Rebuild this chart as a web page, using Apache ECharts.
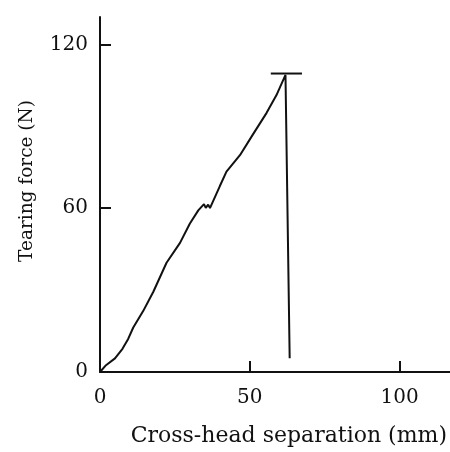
<!DOCTYPE html>
<html>
<head>
<meta charset="utf-8">
<script src="https://cdn.jsdelivr.net/npm/echarts@6/dist/echarts.min.js"></script>
<style>
  html, body { margin: 0; padding: 0; background: #fff; }
  #chart { width: 450px; height: 452px; }
</style>
</head>
<body>
<div id="chart"></div>
<script>
// Cross-head separation (mm) and tearing force (N) along the tear trace
const separation = [0, 2, 5, 7.5, 9.4, 11.1, 14.4, 17.8, 22.2, 26.7, 30, 32.8, 34.7, 35.3, 36.1, 36.7, 40, 42.2, 46.7, 51.1, 55.6, 58.9, 61.9, 63.3];
const force      = [0, 2.5, 5, 8.5, 12.1, 16.3, 22.3, 29.4, 40, 47.3, 54.4, 59.2, 61.5, 60.1, 61.3, 60, 68.1, 73.4, 79.4, 87.1, 94.9, 101.4, 108.8, 5];

// Peak marker (short horizontal bar at the break point)
const peakBarX = [57, 67.4];
const peakBarY = [109.3, 109.3];

const xTicks = [0, 50, 100];
const yTicks = [0, 60, 120];

const ink = '#111';
const font = 'DejaVu Serif';

const trace = separation.map((x, i) => [x, force[i]]);
const peakBar = peakBarX.map((x, i) => [x, peakBarY[i]]);

const chart = echarts.init(document.getElementById('chart'), null, { renderer: 'canvas' });
chart.setOption({
  animation: false,
  backgroundColor: '#fff',
  grid: { left: 100, top: 17, width: 350, height: 362, containLabel: false },
  xAxis: {
    type: 'value',
    min: 0,
    max: 116.7,
    interval: 50,
    name: 'Cross-head separation (mm)',
    nameLocation: 'middle',
    nameGap: 53,
    nameTextStyle: { fontFamily: font, fontSize: 22, color: ink, padding: [0, 0, 0, 28] },
    axisLine: { show: true, lineStyle: { color: ink, width: 2 } },
    axisTick: { show: true, inside: true, length: 11, lineStyle: { color: ink, width: 2 },
      customValues: xTicks },
    axisLabel: { fontFamily: font, fontSize: 20, color: ink, margin: 16, customValues: xTicks },
    splitLine: { show: false }
  },
  yAxis: {
    type: 'value',
    min: 0,
    max: 130,
    interval: 60,
    name: 'Tearing force (N)',
    nameLocation: 'middle',
    nameGap: 63,
    nameRotate: 90,
    nameTextStyle: { fontFamily: font, fontSize: 18.5, color: ink, padding: [0, 0, 0, 27] },
    axisLine: { show: true, lineStyle: { color: ink, width: 2 } },
    axisTick: { show: true, inside: true, length: 11, lineStyle: { color: ink, width: 2 },
      customValues: yTicks },
    axisLabel: { fontFamily: font, fontSize: 20, color: ink, margin: 12, customValues: yTicks },
    splitLine: { show: false }
  },
  series: [
    {
      type: 'line',
      data: trace,
      symbol: 'none',
      lineStyle: { color: ink, width: 2 },
      silent: true
    },
    {
      type: 'line',
      data: peakBar,
      symbol: 'none',
      lineStyle: { color: ink, width: 2 },
      silent: true
    }
  ]
});
</script>
</body>
</html>
